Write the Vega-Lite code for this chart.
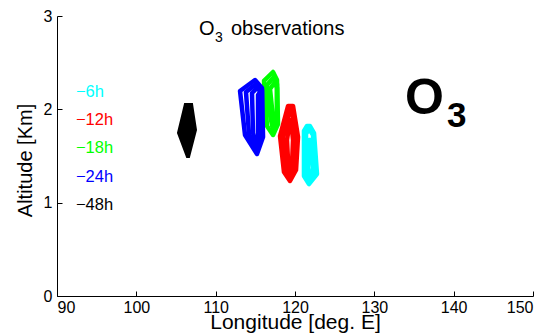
{
  "$schema": "https://vega.github.io/schema/vega-lite/v6.json",
  "width": 476,
  "height": 280,
  "autosize": "none",
  "padding": {"left": 57, "top": 16, "right": 19, "bottom": 39},
  "background": "white",
  "config": {
    "view": {"stroke": null},
    "axis": {
      "domainColor": "black", "domainWidth": 1, "tickColor": "black", "tickSize": -5, "tickWidth": 1,
      "labelFont": "Liberation Sans", "labelFontSize": 16, "labelColor": "black",
      "titleFont": "Liberation Sans", "titleFontWeight": "normal", "titleColor": "black", "grid": false
    }
  },
  "datasets": {
    "poly": [
      {"g":"c1","c":"cyan","i":0,"lon":121.13,"alt":1.768},{"g":"c1","c":"cyan","i":1,"lon":121.51,"alt":1.821},{"g":"c1","c":"cyan","i":2,"lon":121.89,"alt":1.821},{"g":"c1","c":"cyan","i":3,"lon":122.40,"alt":1.746},{"g":"c1","c":"cyan","i":4,"lon":122.77,"alt":1.307},{"g":"c1","c":"cyan","i":5,"lon":121.76,"alt":1.200},{"g":"c1","c":"cyan","i":6,"lon":121.13,"alt":1.286},
      {"g":"c2","c":"cyan","i":0,"lon":121.39,"alt":1.736},{"g":"c2","c":"cyan","i":1,"lon":121.76,"alt":1.789},{"g":"c2","c":"cyan","i":2,"lon":122.27,"alt":1.725},{"g":"c2","c":"cyan","i":3,"lon":122.52,"alt":1.350},{"g":"c2","c":"cyan","i":4,"lon":121.76,"alt":1.243},{"g":"c2","c":"cyan","i":5,"lon":121.39,"alt":1.329},
      {"g":"c3","c":"cyan","i":0,"lon":121.76,"alt":1.671},{"g":"c3","c":"cyan","i":1,"lon":122.02,"alt":1.671},{"g":"c3","c":"cyan","i":2,"lon":122.27,"alt":1.350},{"g":"c3","c":"cyan","i":3,"lon":121.89,"alt":1.286},{"g":"c3","c":"cyan","i":4,"lon":121.64,"alt":1.371},
      {"g":"r1","c":"red","i":0,"lon":119.12,"alt":2.036},{"g":"r1","c":"red","i":1,"lon":119.75,"alt":2.036},{"g":"r1","c":"red","i":2,"lon":120.38,"alt":1.704},{"g":"r1","c":"red","i":3,"lon":120.13,"alt":1.350},{"g":"r1","c":"red","i":4,"lon":119.37,"alt":1.232},{"g":"r1","c":"red","i":5,"lon":118.61,"alt":1.329},{"g":"r1","c":"red","i":6,"lon":118.11,"alt":1.714},
      {"g":"r2","c":"red","i":0,"lon":119.37,"alt":1.993},{"g":"r2","c":"red","i":1,"lon":119.62,"alt":1.993},{"g":"r2","c":"red","i":2,"lon":120.13,"alt":1.693},{"g":"r2","c":"red","i":3,"lon":119.87,"alt":1.371},{"g":"r2","c":"red","i":4,"lon":119.37,"alt":1.286},{"g":"r2","c":"red","i":5,"lon":118.87,"alt":1.371},{"g":"r2","c":"red","i":6,"lon":118.49,"alt":1.693},
      {"g":"r3","c":"red","i":0,"lon":119.37,"alt":1.886},{"g":"r3","c":"red","i":1,"lon":119.50,"alt":1.886},{"g":"r3","c":"red","i":2,"lon":119.75,"alt":1.671},{"g":"r3","c":"red","i":3,"lon":119.62,"alt":1.404},{"g":"r3","c":"red","i":4,"lon":119.37,"alt":1.350},{"g":"r3","c":"red","i":5,"lon":119.12,"alt":1.457},{"g":"r3","c":"red","i":6,"lon":118.99,"alt":1.671},
      {"g":"g1","c":"green","i":0,"lon":116.09,"alt":2.304},{"g":"g1","c":"green","i":1,"lon":117.23,"alt":2.400},{"g":"g1","c":"green","i":2,"lon":117.73,"alt":2.314},{"g":"g1","c":"green","i":3,"lon":117.86,"alt":1.843},{"g":"g1","c":"green","i":4,"lon":117.23,"alt":1.725},{"g":"g1","c":"green","i":5,"lon":116.47,"alt":1.821},
      {"g":"g2","c":"green","i":0,"lon":116.47,"alt":2.261},{"g":"g2","c":"green","i":1,"lon":117.35,"alt":2.346},{"g":"g2","c":"green","i":2,"lon":117.73,"alt":2.271},{"g":"g2","c":"green","i":3,"lon":117.73,"alt":1.886},{"g":"g2","c":"green","i":4,"lon":117.23,"alt":1.779},{"g":"g2","c":"green","i":5,"lon":116.85,"alt":1.939},
      {"g":"g3","c":"green","i":0,"lon":116.85,"alt":2.218},{"g":"g3","c":"green","i":1,"lon":117.48,"alt":2.293},{"g":"g3","c":"green","i":2,"lon":117.73,"alt":2.229},{"g":"g3","c":"green","i":3,"lon":117.73,"alt":1.939},{"g":"g3","c":"green","i":4,"lon":117.35,"alt":1.843},{"g":"g3","c":"green","i":5,"lon":117.10,"alt":2.014},
      {"g":"b1","c":"blue","i":0,"lon":113.07,"alt":2.196},{"g":"b1","c":"blue","i":1,"lon":114.96,"alt":2.314},{"g":"b1","c":"blue","i":2,"lon":115.84,"alt":2.229},{"g":"b1","c":"blue","i":3,"lon":115.97,"alt":1.704},{"g":"b1","c":"blue","i":4,"lon":115.21,"alt":1.521},{"g":"b1","c":"blue","i":5,"lon":113.70,"alt":1.725},
      {"g":"b2","c":"blue","i":0,"lon":113.82,"alt":2.186},{"g":"b2","c":"blue","i":1,"lon":115.08,"alt":2.271},{"g":"b2","c":"blue","i":2,"lon":115.84,"alt":2.207},{"g":"b2","c":"blue","i":3,"lon":115.84,"alt":1.714},{"g":"b2","c":"blue","i":4,"lon":115.21,"alt":1.564},{"g":"b2","c":"blue","i":5,"lon":114.20,"alt":1.736},
      {"g":"b3","c":"blue","i":0,"lon":114.58,"alt":2.175},{"g":"b3","c":"blue","i":1,"lon":115.21,"alt":2.229},{"g":"b3","c":"blue","i":2,"lon":115.71,"alt":2.186},{"g":"b3","c":"blue","i":3,"lon":115.71,"alt":1.725},{"g":"b3","c":"blue","i":4,"lon":115.21,"alt":1.607},{"g":"b3","c":"blue","i":5,"lon":114.71,"alt":1.746},
      {"g":"b4","c":"blue","i":0,"lon":115.34,"alt":2.154},{"g":"b4","c":"blue","i":1,"lon":115.59,"alt":2.186},{"g":"b4","c":"blue","i":2,"lon":115.71,"alt":2.154},{"g":"b4","c":"blue","i":3,"lon":115.71,"alt":1.725},{"g":"b4","c":"blue","i":4,"lon":115.34,"alt":1.650},{"g":"b4","c":"blue","i":5,"lon":115.34,"alt":1.779}
    ],
    "black": [
      {"g":"k1","c":"black","i":0,"lon":106.13,"alt":2.057},{"g":"k1","c":"black","i":1,"lon":107.02,"alt":2.057},{"g":"k1","c":"black","i":2,"lon":107.52,"alt":1.779},{"g":"k1","c":"black","i":3,"lon":106.64,"alt":1.490},{"g":"k1","c":"black","i":4,"lon":106.39,"alt":1.490},{"g":"k1","c":"black","i":5,"lon":105.25,"alt":1.746}
    ],
    "legend": [
      {"t":"−6h","c":"cyan","lon":92.39,"alt":2.132},
      {"t":"−12h","c":"red","lon":92.39,"alt":1.832},
      {"t":"−18h","c":"green","lon":92.39,"alt":1.532},
      {"t":"−24h","c":"blue","lon":92.39,"alt":1.226},
      {"t":"−48h","c":"black","lon":92.39,"alt":0.921}
    ]
  },
  "layer": [
    {
      "data": {"name": "poly"},
      "mark": {"type": "line", "interpolate": "linear-closed", "strokeWidth": 4.5, "strokeJoin": "round"},
      "encoding": {
        "x": {"field": "lon", "type": "quantitative", "scale": {"domain": [90, 150], "nice": false, "zero": false},
              "axis": {"values": [90,100,110,120,130,140,150], "format": "d", "title": "Longitude [deg. E]", "titleFontSize": 21, "titleBaseline": "alphabetic", "titleY": 32, "labelPadding": 8}},
        "y": {"field": "alt", "type": "quantitative", "scale": {"domain": [0, 3], "nice": false},
              "axis": {"values": [0,1,2,3], "format": "d", "title": "Altitude [Km]", "titleFontSize": 20, "titleBaseline": "alphabetic", "titleX": -26, "titleY": 144, "labelPadding": 10}},
        "color": {"field": "c", "type": "nominal", "scale": {"domain": ["cyan","red","green","blue","black"], "range": ["#00FFFF","#FF0000","#00FF00","#0000FF","#000000"]}, "legend": null},
        "detail": {"field": "g"},
        "order": {"field": "i", "type": "quantitative"}
      }
    },
    {
      "data": {"name": "black"},
      "mark": {"type": "line", "interpolate": "linear-closed", "strokeWidth": 2, "fill": "black", "stroke": "black"},
      "encoding": {
        "x": {"field": "lon", "type": "quantitative"},
        "y": {"field": "alt", "type": "quantitative"},
        "detail": {"field": "g"},
        "order": {"field": "i", "type": "quantitative"}
      }
    },
    {
      "data": {"name": "legend"},
      "mark": {"type": "text", "font": "Liberation Sans", "fontSize": 16.5, "align": "left", "baseline": "alphabetic"},
      "encoding": {
        "x": {"field": "lon", "type": "quantitative"},
        "y": {"field": "alt", "type": "quantitative"},
        "text": {"field": "t"},
        "color": {"field": "c", "type": "nominal", "legend": null}
      }
    },
    {
      "data": {"values": [{"t": "O", "lon": 107.9, "alt": 2.796}, {"t": "observations", "lon": 111.93, "alt": 2.796}]},
      "mark": {"type": "text", "font": "Liberation Sans", "fontSize": 20, "align": "left", "baseline": "alphabetic", "color": "black"},
      "encoding": {
        "x": {"field": "lon", "type": "quantitative"},
        "y": {"field": "alt", "type": "quantitative"},
        "text": {"field": "t"}
      }
    },
    {
      "data": {"values": [{"t": "3", "lon": 109.92, "alt": 2.721}]},
      "mark": {"type": "text", "font": "Liberation Sans", "fontSize": 14, "align": "left", "baseline": "alphabetic", "color": "black"},
      "encoding": {
        "x": {"field": "lon", "type": "quantitative"},
        "y": {"field": "alt", "type": "quantitative"},
        "text": {"field": "t"}
      }
    },
    {
      "data": {"values": [{"t": "O", "lon": 133.87, "alt": 1.95}]},
      "mark": {"type": "text", "font": "Liberation Sans", "fontSize": 50, "fontWeight": "bold", "align": "left", "baseline": "alphabetic", "color": "black"},
      "encoding": {
        "x": {"field": "lon", "type": "quantitative"},
        "y": {"field": "alt", "type": "quantitative"},
        "text": {"field": "t"}
      }
    },
    {
      "data": {"values": [{"t": "3", "lon": 139.16, "alt": 1.811}]},
      "mark": {"type": "text", "font": "Liberation Sans", "fontSize": 35, "fontWeight": "bold", "align": "left", "baseline": "alphabetic", "color": "black"},
      "encoding": {
        "x": {"field": "lon", "type": "quantitative"},
        "y": {"field": "alt", "type": "quantitative"},
        "text": {"field": "t"}
      }
    }
  ]
}
